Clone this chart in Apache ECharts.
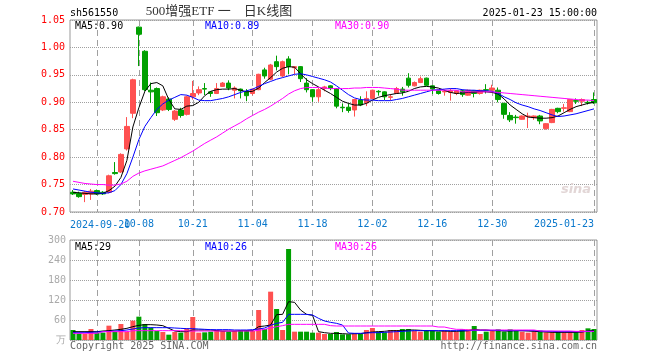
<!DOCTYPE html>
<html><head><meta charset="utf-8">
<script src="https://cdn.jsdelivr.net/npm/echarts@6/dist/echarts.min.js"></script>
<style>html,body{margin:0;padding:0;background:#fff}#c{width:660px;height:360px}</style>
</head><body><div id="c"></div><script>
// ---------- data ----------
const dates = ['2024-09-12','2024-09-13','2024-09-18','2024-09-19','2024-09-20','2024-09-23','2024-09-24','2024-09-25','2024-09-26','2024-09-27',
'2024-09-30','2024-10-08','2024-10-09','2024-10-10','2024-10-11','2024-10-14','2024-10-15','2024-10-16','2024-10-17','2024-10-18',
'2024-10-21','2024-10-22','2024-10-23','2024-10-24','2024-10-25','2024-10-28','2024-10-29','2024-10-30','2024-10-31','2024-11-01',
'2024-11-04','2024-11-05','2024-11-06','2024-11-07','2024-11-08','2024-11-11','2024-11-12','2024-11-13','2024-11-14','2024-11-15',
'2024-11-18','2024-11-19','2024-11-20','2024-11-21','2024-11-22','2024-11-25','2024-11-26','2024-11-27','2024-11-28','2024-11-29',
'2024-12-02','2024-12-03','2024-12-04','2024-12-05','2024-12-06','2024-12-09','2024-12-10','2024-12-11','2024-12-12','2024-12-13',
'2024-12-16','2024-12-17','2024-12-18','2024-12-19','2024-12-20','2024-12-23','2024-12-24','2024-12-25','2024-12-26','2024-12-27',
'2024-12-30','2024-12-31','2025-01-02','2025-01-03','2025-01-06','2025-01-07','2025-01-08','2025-01-09','2025-01-10','2025-01-13',
'2025-01-14','2025-01-15','2025-01-16','2025-01-17','2025-01-20','2025-01-21','2025-01-22','2025-01-23'];

const opens  = [.736,.734,.732,.733,.739,.736,.736,.772,.773,.815, .880,1.037,.993,.922,.925,.886,.906,.869,.886,.878,
 .910,.917,.925,.919,.916,.929,.935,.922,.924,.919, .916,.923,.959,.942,.974,.948,.979,.963,.965,.935,
 .923,.910,.925,.930,.925,.891,.891,.886,.904,.899, .907,.920,.919,.909,.916,.924,.944,.930,.936,.944,
 .930,.921,.919,.918,.916,.921,.913,.921,.916,.923, .922,.922,.898,.876,.873,.869,.874,.872,.875,.852,
 .863,.889,.889,.883,.903,.902,.900,.905];
const closes = [.733,.728,.736,.738,.733,.733,.766,.770,.805,.856, .941,1.024,.923,.919,.881,.910,.887,.884,.876,.910,
 .916,.923,.924,.916,.925,.935,.926,.926,.921,.912, .924,.951,.948,.968,.965,.974,.965,.965,.943,.923,
 .910,.923,.928,.925,.893,.890,.885,.905,.895,.907, .922,.919,.910,.910,.925,.919,.931,.936,.943,.931,
 .924,.916,.920,.921,.921,.914,.922,.916,.922,.922, .926,.905,.878,.868,.872,.875,.875,.875,.866,.861,
 .887,.883,.890,.905,.902,.905,.899,.899];
const lows   = [.731,.726,.718,.722,.731,.731,.734,.768,.771,.812, .871,.966,.920,.899,.875,.884,.884,.866,.872,.876,
 .905,.913,.913,.910,.915,.928,.922,.907,.907,.902, .913,.922,.943,.940,.958,.946,.951,.951,.937,.918,
 .901,.901,.920,.922,.889,.882,.881,.874,.893,.893, .906,.912,.904,.903,.915,.912,.927,.929,.935,.930,
 .915,.914,.912,.903,.913,.910,.912,.909,.914,.916, .921,.900,.870,.864,.861,.868,.853,.868,.860,.850,
 .862,.880,.883,.882,.897,.893,.896,.897];
const highs  = [.740,.737,.738,.742,.741,.738,.768,.791,.807,.873, .943,1.038,.995,.936,.927,.912,.909,.886,.890,.912,
 .939,.929,.935,.920,.935,.937,.940,.929,.925,.924, .925,.952,.963,.970,.985,.976,.984,.966,.966,.944,
 .924,.926,.930,.931,.926,.898,.898,.906,.911,.920, .923,.922,.920,.915,.928,.928,.953,.938,.947,.945,
 .931,.922,.923,.925,.922,.923,.923,.922,.923,.933, .932,.927,.899,.882,.877,.876,.881,.876,.877,.862,
 .888,.890,.897,.906,.907,.907,.903,.918];

const ma5  = [.736,.735,.734,.733,.733,.734,.739,.747,.763,.794, .855,.890,.920,.934,.936,.930,.905,.888,.887,.893,
 .894,.900,.912,.920,.923,.924,.924,.925,.922,.919, .920,.926,.936,.945,.955,.962,.965,.964,.952,.941,
 .934,.928,.922,.916,.909,.902,.898,.895,.895,.898, .904,.909,.912,.914,.916,.917,.920,.925,.928,.929,
 .928,.926,.922,.918,.916,.917,.918,.918,.920,.919, .918,.915,.906,.895,.887,.879,.873,.872,.871,.871,
 .872,.875,.881,.887,.892,.895,.898,.900];
const ma10 = [.742,.740,.738,.736,.735,.734,.735,.739,.750,.770, .800,.832,.856,.872,.887,.897,.904,.909,.914,.913,
 .909,.904,.903,.903,.905,.907,.910,.914,.918,.921, .924,.929,.934,.938,.942,.945,.948,.951,.952,.950,
 .947,.944,.941,.937,.930,.922,.914,.908,.905,.904, .904,.903,.903,.903,.905,.907,.910,.913,.916,.919,
 .922,.923,.924,.925,.925,.923,.922,.922,.921,.921, .920,.916,.910,.905,.899,.895,.892,.888,.885,.881,
 .877,.874,.875,.877,.879,.882,.885,.888];
const ma30 = [.756,.754,.752,.751,.750,.750,.749,.749,.751,.756, .765,.771,.775,.778,.781,.784,.789,.794,.799,.805,
 .811,.818,.825,.831,.837,.844,.851,.857,.863,.870, .876,.882,.887,.893,.900,.907,.915,.921,.925,.927,
 .927,.927,.926,.925,.925,.925,.925,.926,.926,.927, .927,.927,.926,.925,.924,.922,.922,.922,.922,.922,
 .922,.922,.922,.922,.922,.919,.919,.919,.919,.919, .919,.918,.917,.916,.915,.914,.913,.912,.911,.910,
 .909,.908,.907,.906,.905,.904,.904,.903];

const volumes = [30,20,18,33,22,22,43,25,48,25, 58,70,48,37,27,24,16,24,22,35, 69,22,23,25,30,27,25,27,30,30,
 27,90,33,145,93,30,273,25,25,25, 22,22,18,18,24,17,17,20,18,30, 36,25,23,30,30,33,33,27,25,30,
 27,25,28,25,25,32,32,42,18,25, 27,32,25,32,27,25,22,25,28,23, 23,25,23,23,23,30,35,33];
const volMa5  = [25,25,25,25,25,27,28,30,32,35, 40,44,46,46,45,43,35,27,25,25, 30,30,30,30,28,27,27,27,28,28,
 28,40,42,45,76,77,115,113,90,77, 74,25,22,20,20,19,18,19,19,22, 24,25,26,28,28,28,30,30,29,28,
 28,27,27,26,26,27,28,32,30,30, 28,28,27,27,28,28,27,26,25,24, 23,23,23,23,23,24,27,29];
const volMa10 = [22,22,22,23,24,25,26,27,28,30, 33,36,37,37,37,37,37,36,35,34, 34,33,32,31,31,31,31,30,30,30,
 31,33,36,44,50,53,77,77,77,77, 75,65,57,53,50,45,21,20,20,21, 22,22,23,24,25,26,27,28,28,28,
 28,28,28,28,28,28,28,29,29,29, 29,29,28,28,28,28,28,28,27,26, 26,25,25,25,25,25,26,26];
const volMa30 = [20,20,20,20,20,25,25,25,25,25, 28,28,28,28,28,28,28,28,28,27, 27,27,27,27,27,27,27,27,27,27,
 27,29,32,36,40,43,47,47,47,47, 47,47,47,43,42,42,42,42,42,42, 42,42,42,42,42,42,42,42,42,42,
 42,39,39,35,32,32,30,30,30,30, 30,30,30,30,30,30,30,30,27,27, 27,27,27,27,26,26,26,26];

const labelIdx = [4, 11, 20, 30, 40, 50, 60, 70, 87];
const priceMin = 0.70, priceMax = 1.05, priceStep = 0.05;
const volMin = 0, volMax = 300, volStep = 60;

// ---------- chart ----------
const MONO = '"DejaVu Sans Mono","Liberation Mono",monospace';
const UP = '#ff5050', DOWN = '#00a000';
const GRIDC = '#a0a0a0';
const XLBL = '#0a78cc';
const showSet = new Set(labelIdx);
const isLabel = (i) => showSet.has(i);
const lastIdx = dates.length - 1;

const kData = opens.map((o, i) => [o, closes[i], lows[i], highs[i]]);
const volData = volumes.map((v, i) => ({ value: v, itemStyle: { color: closes[i] >= opens[i] ? UP : DOWN } }));

function xFmt(val, idx) {
  if (idx === labelIdx[0]) return '';            // drawn separately, it overlaps the next label
  if (idx === lastIdx) return '{l|' + val + '}';
  return val.slice(5);
}

function xAxisCfg(gi, withLabels) {
  return {
    type: 'category', gridIndex: gi, data: dates, boundaryGap: true,
    axisLine: { show: false },
    axisTick: { show: withLabels, inside: true, length: 3, alignWithLabel: true,
      interval: (i) => isLabel(i), lineStyle: { color: '#999' } },
    axisLabel: { show: withLabels, interval: (i) => isLabel(i), formatter: xFmt, hideOverlap: false,
      color: XLBL, fontFamily: MONO, fontSize: 10, margin: 7,
      rich: { l: { padding: [0, 60, 0, 0], color: XLBL, fontFamily: MONO, fontSize: 10 } } },
    splitLine: { show: true, alignWithLabel: true, interval: (i) => isLabel(i),
      lineStyle: { color: GRIDC, type: [6, 4], width: 1 } }
  };
}

function txt(text, x, y, fill, align, font) {
  return { type: 'text', x: x, y: y, silent: true, z: 100,
    style: { text: text, fill: fill, font: font || ('10px ' + MONO), textAlign: align || 'left', textVerticalAlign: 'middle' } };
}

const option = {
  animation: false,
  backgroundColor: '#ffffff',
  grid: [
    { left: 70, width: 527, top: 20, height: 192, show: true, borderColor: '#999', borderWidth: 1 },
    { left: 70, width: 527, top: 240, height: 100, show: true, borderColor: '#999', borderWidth: 1 }
  ],
  xAxis: [xAxisCfg(0, true), xAxisCfg(1, false)],
  yAxis: [
    { type: 'value', gridIndex: 0, min: priceMin, max: priceMax, interval: priceStep,
      axisLine: { show: false }, axisTick: { show: false },
      axisLabel: { color: '#ff0000', fontFamily: MONO, fontSize: 10, margin: 5, formatter: (v) => v.toFixed(2) },
      splitLine: { show: true, lineStyle: { color: GRIDC, type: 'dotted', width: 1 } } },
    { type: 'value', gridIndex: 1, min: volMin, max: volMax, interval: volStep,
      axisLine: { show: false }, axisTick: { show: false },
      axisLabel: { color: '#aaaaaa', fontFamily: MONO, fontSize: 10, margin: 4, formatter: (v) => v === 0 ? '万' : String(v) },
      splitLine: { show: true, lineStyle: { color: GRIDC, type: 'dotted', width: 1 } } }
  ],
  series: [
    { type: 'candlestick', xAxisIndex: 0, yAxisIndex: 0, data: kData, barWidth: 5,
      itemStyle: { color: UP, color0: DOWN, borderColor: UP, borderColor0: DOWN, borderWidth: 1 } },
    { type: 'line', xAxisIndex: 0, yAxisIndex: 0, data: ma5, symbol: 'none', lineStyle: { color: '#000000', width: 1 }, z: 5 },
    { type: 'line', xAxisIndex: 0, yAxisIndex: 0, data: ma10, symbol: 'none', lineStyle: { color: '#0000ff', width: 1 }, z: 5 },
    { type: 'line', xAxisIndex: 0, yAxisIndex: 0, data: ma30, symbol: 'none', lineStyle: { color: '#ff00ff', width: 1 }, z: 5 },
    { type: 'bar', xAxisIndex: 1, yAxisIndex: 1, data: volData, barWidth: 5 },
    { type: 'line', xAxisIndex: 1, yAxisIndex: 1, data: volMa5, symbol: 'none', lineStyle: { color: '#000000', width: 1 }, z: 5 },
    { type: 'line', xAxisIndex: 1, yAxisIndex: 1, data: volMa10, symbol: 'none', lineStyle: { color: '#0000ff', width: 1 }, z: 5 },
    { type: 'line', xAxisIndex: 1, yAxisIndex: 1, data: volMa30, symbol: 'none', lineStyle: { color: '#ff00ff', width: 1 }, z: 5 }
  ],
  graphic: [
    txt('sh561550', 70, 13, '#000'),
    txt('500增强ETF 一　日K线图', 219, 12, '#333', 'center', '13px "Liberation Serif","Noto Sans CJK SC"'),
    txt('2025-01-23 15:00:00', 597, 13, '#000', 'right'),
    txt(dates[labelIdx[0]], 70, 225, XLBL),
    txt('MA5:' + ma5[lastIdx].toFixed(2), 75, 26, '#000'),
    txt('MA10:' + ma10[lastIdx].toFixed(2), 205, 26, '#0000ff'),
    txt('MA30:' + ma30[lastIdx].toFixed(2), 335, 26, '#ff00ff'),
    txt('MA5:' + volMa5[lastIdx], 75, 247, '#000'),
    txt('MA10:' + volMa10[lastIdx], 205, 247, '#0000ff'),
    txt('MA30:' + volMa30[lastIdx], 335, 247, '#ff00ff'),
    txt('Copyright 2025 SINA.COM', 70, 346, '#666'),
    txt('http://finance.sina.com.cn', 597, 346, '#666', 'right'),
    txt('sina', 576, 190, '#e2d6d6', 'center', 'italic bold 13px "DejaVu Sans"')
  ]
};
const chart = echarts.init(document.getElementById('c'), null, { renderer: 'canvas' });
chart.setOption(option);
</script></body></html>
